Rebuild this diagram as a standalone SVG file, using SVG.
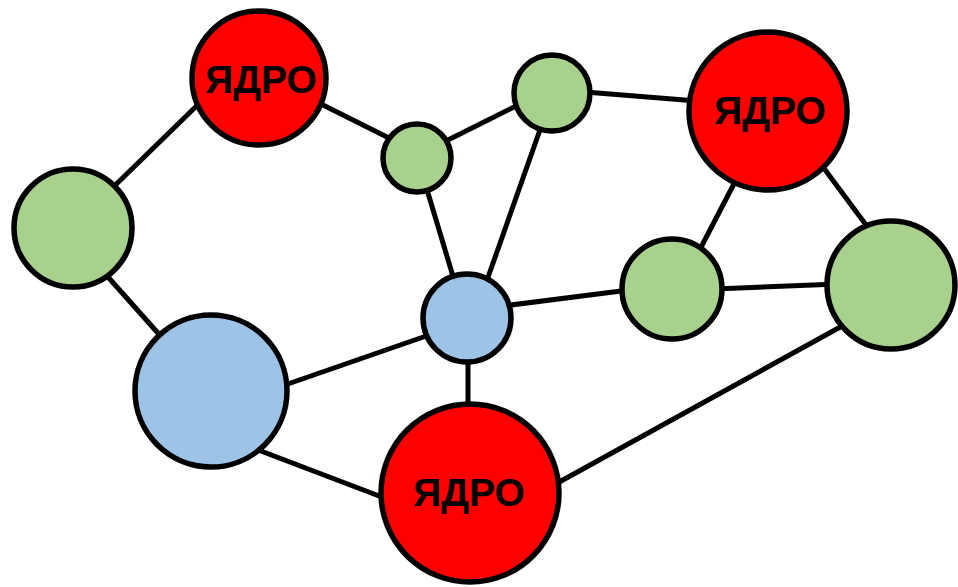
<svg xmlns="http://www.w3.org/2000/svg" width="958" height="587" viewBox="0 0 958 587">
<style>
.e{stroke:#000;stroke-width:5;fill:none;stroke-linecap:butt}
.n{stroke:#000;stroke-width:5.5}
.r{fill:#FF0000}
.g{fill:#A9D18E}
.b{fill:#9DC3E6}
.t{font-family:"Liberation Sans",Arial,sans-serif;font-weight:bold;font-size:39px;fill:#000;text-anchor:middle}
</style>
<rect width="958" height="587" fill="#fff"/>
<g id="connectors">
<line class="e" x1="100" y1="200" x2="215" y2="88"/>
<line class="e" x1="315" y1="101" x2="395" y2="141"/>
<line class="e" x1="100" y1="268" x2="165" y2="341"/>
<line class="e" x1="440" y1="144" x2="520" y2="104"/>
<line class="e" x1="425" y1="183" x2="455" y2="283"/>
<line class="e" x1="541" y1="127" x2="486" y2="283"/>
<line class="e" x1="585" y1="92" x2="697" y2="101"/>
<line class="e" x1="737" y1="178" x2="697" y2="255"/>
<line class="e" x1="820" y1="163" x2="872" y2="233"/>
<line class="e" x1="715" y1="289" x2="838" y2="284"/>
<line class="e" x1="503" y1="306" x2="629" y2="290"/>
<line class="e" x1="282" y1="386" x2="432" y2="334"/>
<line class="e" x1="468" y1="355" x2="468" y2="415"/>
<line class="e" x1="253" y1="448" x2="387" y2="499"/>
<line class="e" x1="552" y1="486" x2="853" y2="320"/>
</g>
<g id="core1"><circle class="n r" cx="259" cy="78" r="67"/><text class="t" x="261" y="93">ЯДРО</text></g>
<g id="core2"><circle class="n r" cx="768" cy="111" r="79"/><text class="t" x="770" y="124">ЯДРО</text></g>
<g id="core3"><circle class="n r" cx="470" cy="493" r="89"/><text class="t" x="469" y="506">ЯДРО</text></g>
<g id="green1"><circle class="n g" cx="73" cy="228" r="59"/></g>
<g id="green2"><circle class="n g" cx="417" cy="158" r="34"/></g>
<g id="green3"><circle class="n g" cx="552" cy="93" r="38"/></g>
<g id="green4"><circle class="n g" cx="672" cy="289" r="50"/></g>
<g id="green5"><circle class="n g" cx="891" cy="285" r="64"/></g>
<g id="blue1"><circle class="n b" cx="211" cy="391" r="76"/></g>
<g id="blue2"><circle class="n b" cx="467" cy="318" r="44"/></g>
</svg>
